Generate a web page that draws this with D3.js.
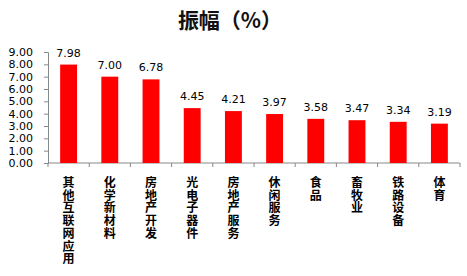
<!DOCTYPE html>
<html>
<head>
<meta charset="utf-8">
<script src="https://cdn.jsdelivr.net/npm/d3@7.9.0/dist/d3.min.js"></script>
<style>
  body { margin: 0; background: #fff; }
  svg { display: block; }
</style>
</head>
<body>
<svg id="chart" width="467" height="276"></svg>
<script>
const categories = ['其他互联网应用', '化学新材料', '房地产开发', '光电子器件', '房地产服务', '休闲服务', '食品', '畜牧业', '铁路设备', '体育'];
const values = [7.98, 7.00, 6.78, 4.45, 4.21, 3.97, 3.58, 3.47, 3.34, 3.19];
const yTicks = [0, 1, 2, 3, 4, 5, 6, 7, 8, 9];

const svg = d3.select('#chart');
const plotLeft = 48, plotRight = 460, plotTop = 52, plotBottom = 163;

const x = d3.scaleBand().domain(categories).range([plotLeft, plotRight]).paddingInner(0.59).paddingOuter(0.295);
const y = d3.scaleLinear().domain([0, 9]).range([plotBottom, plotTop]);

// title
svg.append('text')
  .attr('x', 230).attr('y', 28)
  .attr('text-anchor', 'middle')
  .attr('font-family', '"Noto Sans CJK SC", sans-serif')
  .attr('font-weight', 'bold')
  .attr('font-size', 21)
  .attr('fill', '#111')
  .text('振幅（%）');

// y axis
const yAxis = svg.append('g')
  .attr('transform', `translate(${plotLeft},0)`)
  .call(d3.axisLeft(y).tickValues(yTicks).tickFormat(d3.format('.2f')).tickSize(4).tickPadding(11));
yAxis.selectAll('path, line').attr('stroke', '#888');
yAxis.selectAll('text')
  .attr('font-family', 'Verdana, "DejaVu Sans", sans-serif')
  .attr('font-size', 11).attr('fill', '#000');

// x axis: ticks at band boundaries
const xAxis = svg.append('g').attr('transform', `translate(0,${plotBottom})`);
xAxis.append('line').attr('x1', plotLeft).attr('x2', plotRight).attr('stroke', '#888');
const step = x.step();
xAxis.selectAll('.tk')
  .data(d3.range(categories.length + 1))
  .join('line')
  .attr('x1', i => plotLeft + i * step).attr('x2', i => plotLeft + i * step)
  .attr('y1', 0).attr('y2', 4)
  .attr('stroke', '#888');

// bars
svg.selectAll('.bar')
  .data(categories)
  .join('rect')
  .attr('x', d => x(d))
  .attr('width', x.bandwidth())
  .attr('y', (d, i) => y(values[i]))
  .attr('height', (d, i) => plotBottom - y(values[i]))
  .attr('fill', '#ff0000');

// value labels
svg.selectAll('.val')
  .data(categories)
  .join('text')
  .attr('x', d => x(d) + x.bandwidth() / 2)
  .attr('y', (d, i) => y(values[i]) - 8)
  .attr('text-anchor', 'middle')
  .attr('font-family', 'Verdana, "DejaVu Sans", sans-serif')
  .attr('font-size', 11)
  .attr('fill', '#000')
  .text((d, i) => values[i].toFixed(2));

// category labels, vertical
const lab = svg.selectAll('.cat')
  .data(categories)
  .join('text')
  .attr('text-anchor', 'middle')
  .attr('font-family', '"Noto Sans CJK SC", sans-serif')
  .attr('font-weight', 'bold')
  .attr('font-size', 12)
  .attr('fill', '#000');
lab.selectAll('tspan')
  .data(d => d.split('').map(c => ({ c, d })))
  .join('tspan')
  .attr('x', o => x(o.d) + x.bandwidth() / 2)
  .attr('y', (o, i) => 187 + i * 12.7)
  .text(o => o.c);
</script>
</body>
</html>
